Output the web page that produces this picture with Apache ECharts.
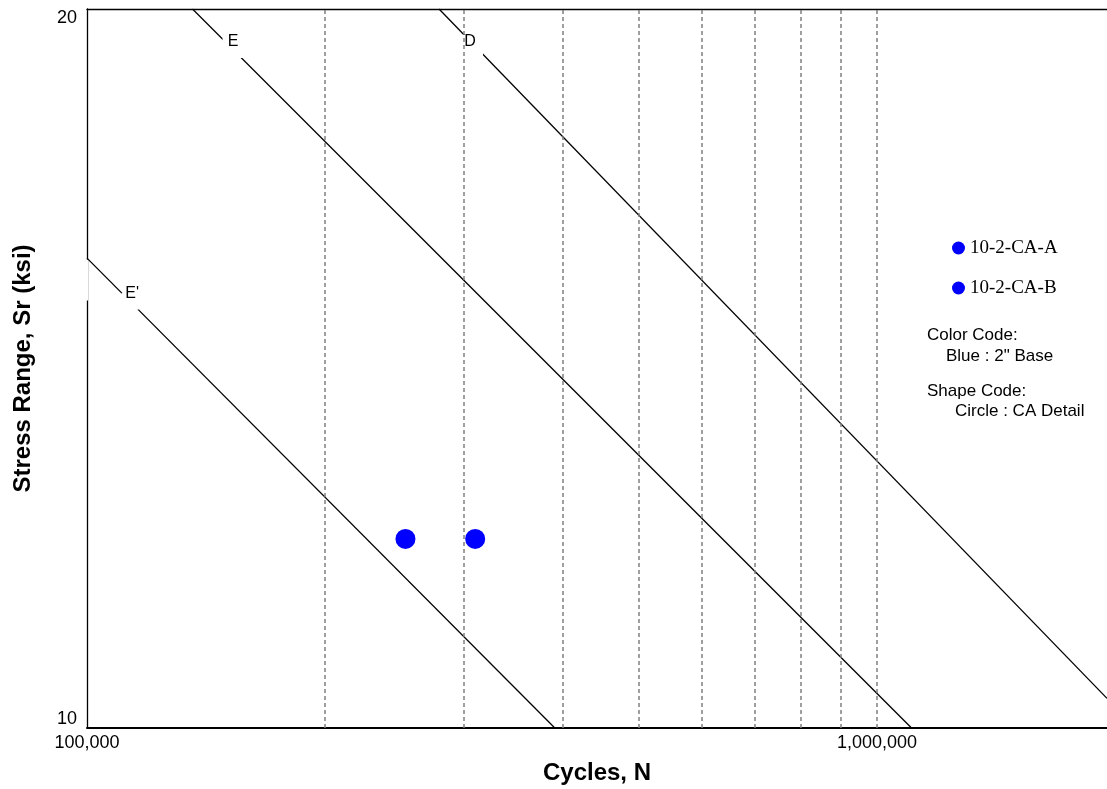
<!DOCTYPE html>
<html>
<head>
<meta charset="utf-8">
<style>
  html, body { margin: 0; padding: 0; background: #fff; }
  #chart { width: 1107px; height: 789px; }
</style>
<script src="https://cdn.jsdelivr.net/npm/echarts@6/dist/echarts.min.js"></script>
</head>
<body>
<div id="chart"></div>
<script>
// Axis ranges and tick labels
const xMin = 100000;
const xMax = 1955000;
const yMin = 10;
const yMax = 20;
const xTicks = [100000, 1000000];
const yTicks = [10, 20];
// Dashed reference cycle counts
const gridCycles = [200000, 300000, 400000, 500000, 600000, 700000, 800000, 900000, 1000000];

// S-N design curves, [cycles, stress range] end points
const curveD = [[279000, 20], [1955000, 10.29]];
const curveE = [[136000, 20], [1106000, 10]];
const curveEp = [[100000, 15.73], [391000, 10]];

// Curve labels: [cycles, stress, name]
const curveLabels = [
  [153500, 19.29, 'E'],
  [306700, 19.29, 'D'],
  [113400, 15.09, "E'"]
];

// Test specimens
const specimenA = [[253000, 12.0]];
const specimenB = [[310000, 12.0]];

// Notes beside the legend
const notes = [
  { text: 'Color Code:', x: 927, y: 335 },
  { text: 'Blue : 2" Base', x: 946, y: 356 },
  { text: 'Shape Code:', x: 927, y: 391 },
  { text: 'Circle : CA Detail', x: 955, y: 411 }
];

const sans = '"Liberation Sans", Arial, Helvetica, sans-serif';
const serif = '"Liberation Serif", "Times New Roman", serif';
const blue = '#0000ff';

const chart = echarts.init(document.getElementById('chart'));

function curveSeries(data) {
  return {
    type: 'line',
    data: data,
    symbol: 'none',
    lineStyle: { color: '#000', width: 1.3 },
    z: 3,
    silent: true
  };
}

const labelSizes = { 'E': 23, 'D': 23, "E'": 17 };
const labelOffsets = { 'E': [-1, -5], 'D': [-1.5, -5], "E'": [2, -8] };

chart.setOption({
  animation: false,
  backgroundColor: '#fff',
  grid: { left: 87, right: 0, top: 9, bottom: 61, outerBoundsMode: 'none', containLabel: false },
  legend: {
    orient: 'vertical',
    left: 947,
    top: 233,
    itemWidth: 13,
    itemHeight: 13,
    itemGap: 20,
    icon: 'circle',
    itemStyle: { opacity: 1 },
    data: ['10-2-CA-A', '10-2-CA-B'],
    textStyle: { fontFamily: serif, fontSize: 19, color: '#000', lineHeight: 20 }
  },
  xAxis: [{
    type: 'log',
    logBase: 10,
    min: xMin,
    max: xMax,
    name: 'Cycles, N',
    nameLocation: 'middle',
    nameGap: 33,
    nameTextStyle: { fontFamily: sans, fontSize: 24, fontWeight: 'bold', color: '#000' },
    axisLine: { lineStyle: { color: '#000', width: 2 } },
    axisTick: { show: false },
    splitLine: { show: false },
    minorSplitLine: { show: false },
    axisLabel: {
      customValues: xTicks,
      margin: 6,
      fontFamily: sans,
      fontSize: 18,
      color: '#000',
      formatter: v => Math.round(v).toLocaleString('en-US')
    }
  }, {
    type: 'log',
    logBase: 10,
    min: xMin,
    max: xMax,
    position: 'top',
    axisLine: { lineStyle: { color: '#000', width: 1.3 } },
    axisTick: { show: false },
    axisLabel: { show: false },
    splitLine: { show: false }
  }],
  yAxis: {
    type: 'log',
    logBase: 10,
    min: yMin,
    max: yMax,
    name: 'Stress Range, Sr (ksi)',
    nameLocation: 'middle',
    nameGap: 52,
    nameTextStyle: { fontFamily: sans, fontSize: 24, fontWeight: 'bold', color: '#000' },
    axisLine: { show: true, lineStyle: { color: '#000', width: 1.3 } },
    axisTick: { show: false },
    splitLine: { show: false },
    axisLabel: {
      customValues: yTicks,
      margin: 10,
      fontFamily: sans,
      fontSize: 18,
      color: '#000',
      verticalAlignMinLabel: 'bottom',
      verticalAlignMaxLabel: 'top',
      formatter: v => String(Math.round(v))
    }
  },
  series: [
    {
      type: 'line',
      data: [],
      silent: true,
      z: 1,
      markLine: {
        silent: true,
        symbol: ['none', 'none'],
        label: { show: false },
        lineStyle: { color: '#808080', width: 1.5, type: [4, 3] },
        data: gridCycles.map(v => ({ xAxis: v }))
      }
    },
    curveSeries(curveD),
    curveSeries(curveE),
    curveSeries(curveEp),
    {
      type: 'scatter',
      silent: true,
      z: 4,
      symbol: 'rect',
      data: curveLabels.map(d => ({
        value: [d[0], d[1]],
        name: d[2],
        symbolSize: labelSizes[d[2]],
        label: { offset: labelOffsets[d[2]] }
      })),
      itemStyle: { color: '#fff', opacity: 1 },
      label: {
        show: true,
        position: 'inside',
        formatter: p => p.name,
        fontFamily: sans,
        fontSize: 16,
        color: '#000'
      }
    },
    {
      name: '10-2-CA-A',
      type: 'scatter',
      data: specimenA,
      symbol: 'circle',
      symbolSize: 20,
      itemStyle: { color: blue, opacity: 1 },
      z: 5
    },
    {
      name: '10-2-CA-B',
      type: 'scatter',
      data: specimenB,
      symbol: 'circle',
      symbolSize: 20,
      itemStyle: { color: blue, opacity: 1 },
      z: 5
    }
  ]
});

// Break in the stress axis where the E' curve meets it
const axisBreak = [15.72, 15.1];
const pTop = chart.convertToPixel({ gridIndex: 0 }, [xMin, axisBreak[0]]);
const pBot = chart.convertToPixel({ gridIndex: 0 }, [xMin, axisBreak[1]]);

chart.setOption({
  graphic: [
    {
      type: 'rect',
      z: 100,
      shape: { x: pTop[0] - 2, y: pTop[1] + 1, width: 3, height: pBot[1] - pTop[1] - 1 },
      style: { fill: '#fff' },
      silent: true
    }
  ].concat(notes.map(n => ({
    type: 'text',
    x: n.x,
    y: n.y,
    silent: true,
    style: {
      text: n.text,
      fontFamily: sans,
      fontSize: 17,
      fill: '#000',
      verticalAlign: 'middle',
      align: 'left'
    }
  })))
});
</script>
</body>
</html>
